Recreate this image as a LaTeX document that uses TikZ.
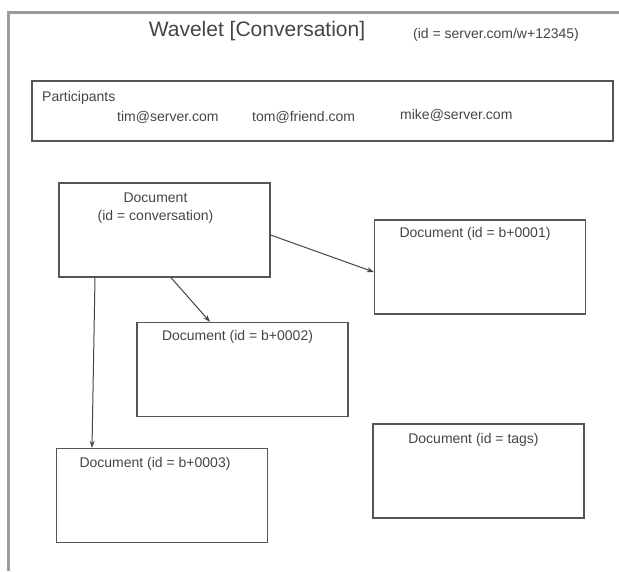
\documentclass[tikz,border=0pt]{standalone}
\usepackage{fontspec}
\setmainfont{Liberation Sans}
\usepackage{xcolor}
\usetikzlibrary{arrows.meta}
\definecolor{ink}{HTML}{454545}
\definecolor{boxgray}{HTML}{555555}
\definecolor{framegray}{HTML}{9C9C9C}

\begin{document}
\begin{tikzpicture}[x=1pt,y=-1pt,-,>={Stealth[length=7pt,width=5pt]},shorten >=0pt,auto,
    main node/.style={rectangle,draw=boxgray,line width=1.3pt,minimum width=211pt,minimum height=94pt,inner sep=0pt},
    doc text/.style={text=ink,inner sep=0pt,align=center,font=\fontsize{14}{18}\selectfont},
    title text/.style={text=ink,inner sep=0pt,font=\fontsize{21}{24}\selectfont}]
            \useasboundingbox (0,0) rectangle (619,571);

            % outer wavelet frame, runs off the page
            \draw[framegray,line width=2.5pt] (8.5,571) -- (8.5,12.5) -- (619,12.5);

            \node[title text] (t) at (257,31) {Wavelet [Conversation]};
            \node[doc text] (tid) at (496,35) {(id = server.com/w+12345)};

            \node[main node,minimum width=581pt,minimum height=60pt] (6) at (322.5,111) {};
            \node[doc text,anchor=west] (p0) at (42,98) {Participants};
            \node[doc text,anchor=west] (p1) at (117,117) {tim@server.com};
            \node[doc text,anchor=west] (p2) at (252,117) {tom@friend.com};
            \node[doc text,anchor=west] (p3) at (400,115) {mike@server.com};

            \node[main node] (1) at (164.5,230) {};
            \node[main node] (2) at (480,267) {};
            \node[main node] (3) at (242.5,369.5) {};
            \node[main node] (4) at (162,495.5) {};
            \node[main node] (5) at (478.5,471) {};

            \node[doc text,anchor=north] (1t) at ([xshift=-9pt,yshift=-10pt]1.north) {Document\\(id = conversation)};
            \node[doc text,anchor=north] (2t) at ([xshift=-5pt,yshift=-8pt]2.north) {Document (id = b+0001)};
            \node[doc text,anchor=north] (3t) at ([xshift=-5pt,yshift=-8pt]3.north) {Document (id = b+0002)};
            \node[doc text,anchor=north] (4t) at ([xshift=-7pt,yshift=-9pt]4.north) {Document (id = b+0003)};
            \node[doc text,anchor=north] (5t) at ([xshift=-5pt,yshift=-10pt]5.north) {Document (id = tags)};

            \path[->,ink,line width=1pt]
                ([yshift=-5pt]1.east) edge ([yshift=-5pt]2.west)
                ([xshift=6.5pt]1.south) edge ([xshift=-32.5pt]3.north)
                ([xshift=-69.5pt]1.south) edge ([xshift=-70pt]4.north)
            ;
            \end{tikzpicture}
\end{document}
